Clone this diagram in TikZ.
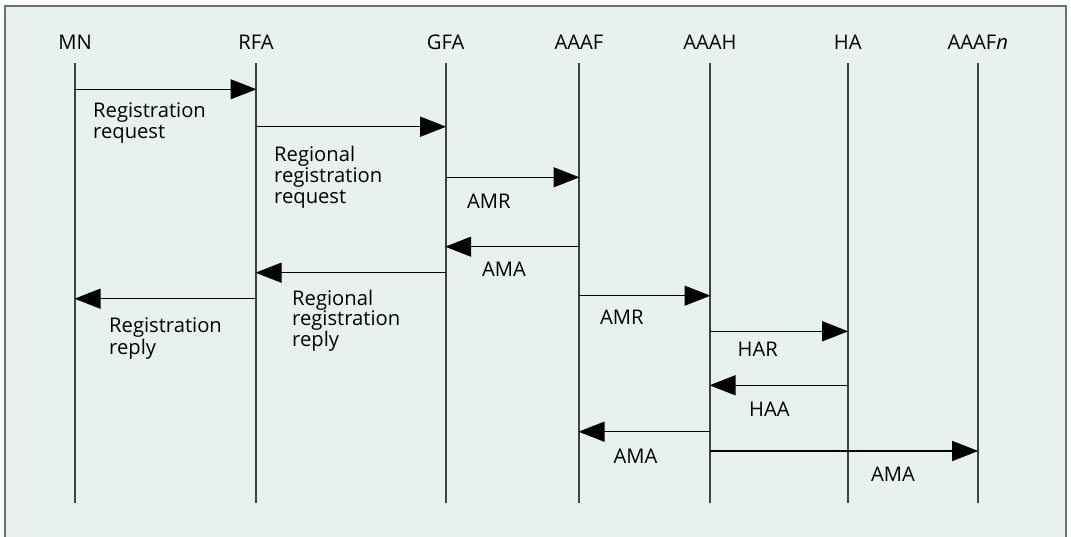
\documentclass[tikz,border=0pt]{standalone}
\usepackage{fontspec}
\setmainfont{Open Sans}
\usetikzlibrary{arrows.meta}
\definecolor{bgc}{RGB}{232,241,240}
\definecolor{frc}{RGB}{112,112,112}
\definecolor{llc}{RGB}{64,64,64}
\begin{document}
\begin{tikzpicture}[x=1pt,y=-1pt,
  font=\fontsize{20.2}{21}\selectfont,
  head/.style={anchor=base, inner sep=0pt},
  lbl/.style={anchor=base west, inner sep=0pt, align=left},
  life/.style={llc, line width=1.6pt},
  msg/.style={black, line width=1.3pt, -{Triangle[length=26pt,width=20pt]}, shorten >=-0.5pt}]
\useasboundingbox (0,0) rectangle (1071,537);
\fill[bgc] (5,6) rectangle (1066,545);
\draw[frc, line width=2pt] (5,6) rectangle (1066,545);
% headers
\node[head] (MN) at (75,50) {MN};
\node[head] (RFA) at (256,50) {RFA};
\node[head] (GFA) at (445.7,50) {GFA};
\node[head] (AAAF) at (579,50) {AAAF};
\node[head] (AAAH) at (710,50) {AAAH};
\node[head] (HA) at (847.7,50) {HA};
\node[head] (AAAFn) at (977.7,50) {AAAF\textit{n}};
% lifelines
\foreach \n/\x in {MN/75,RFA/256,GFA/445.7,AAAF/579,AAAH/710,HA/847.7,AAAFn/977.7}{
  \coordinate (\n t) at (\x,63);
  \coordinate (\n b) at (\x,503);
  \draw[life] (\n t) -- (\n b);
}
% messages
\draw[msg] (MNt |- 0,89.3) -- (RFAt |- 0,89.3);
\node[lbl] (l1) at (93,139) {Registration\\request};
\draw[msg] (RFAt |- 0,126.7) -- (GFAt |- 0,126.7);
\node[lbl] (l2) at (274,204) {Regional\\registration\\request};
\draw[msg] (GFAt |- 0,177.3) -- (AAAFt |- 0,177.3);
\node[lbl] (l3) at (467,209) {AMR};
\draw[msg] (AAAFt |- 0,246.7) -- (GFAt |- 0,246.7);
\node[lbl] (l4) at (482,277) {AMA};
\draw[msg] (GFAt |- 0,272.7) -- (RFAt |- 0,272.7);
\node[lbl] (l5) at (292,347) {Regional\\registration\\reply};
\draw[msg] (RFAt |- 0,298.7) -- (MNt |- 0,298.7);
\node[lbl] (l6) at (109,354) {Registration\\reply};
\draw[msg] (AAAFt |- 0,295.7) -- (AAAHt |- 0,295.7);
\node[lbl] (l7) at (600,324) {AMR};
\draw[msg] (AAAHt |- 0,331.3) -- (HAt |- 0,331.3);
\node[lbl] (l8) at (737.5,356.7) {HAR};
\draw[msg] (HAt |- 0,385.3) -- (AAAHt |- 0,385.3);
\node[lbl] (l9) at (749,416.7) {HAA};
\draw[msg] (AAAHt |- 0,431.7) -- (AAAFt |- 0,431.7);
\node[lbl] (l10) at (613.5,463) {AMA};
\draw[msg] (AAAHt |- 0,451) -- (AAAFnt |- 0,451);
\node[lbl] (l11) at (871,481.7) {AMA};
\end{tikzpicture}
\end{document}
